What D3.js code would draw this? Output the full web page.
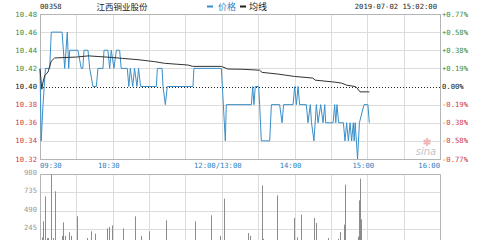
<!DOCTYPE html>
<html><head><meta charset="utf-8">
<script src="https://cdn.jsdelivr.net/npm/d3@7"></script>
<style>body{margin:0;background:#fff}svg{display:block}</style>
</head><body>
<svg id="c" width="480" height="240"></svg>
<script>
// ---- data ----
const stockCode = "00358";
const stockName = "江西铜业股份";
const legendNames = ["价格", "均线"];
const dateText = "2019-07-02 15:02:00";
const prevClose = 10.40;
const priceTicks = [10.48, 10.46, 10.44, 10.42, 10.40, 10.38, 10.36, 10.34, 10.32];
const pctTicks = ["+0.77%", "+0.58%", "+0.38%", "+0.19%", "0.00%", "-0.19%", "-0.38%", "-0.58%", "-0.77%"];
const timeLabels = ["09:30", "10:30", "12:00/13:00", "14:00", "15:00", "16:00"];
const timeLabelMinutes = [0, 60, 150, 210, 270, 330];
const volTicks = [980, 735, 490, 245];
// minutes since 09:30 (lunch break removed)
const priceMinutes = [0,1,2.5,3.5,4.5,8,9.3,18.2,20.4,22.5,23.7,24.5,31.3,34,35.3,36.3,39.6,41,43.7,46.5,47.8,52,52.8,56,57.5,58.8,61,63,65.7,67,72,73.3,74.5,76.5,78,80,81.3,83,96,96.8,100.7,101.5,103.4,105,126.2,127,149.6,152.9,153.7,174.4,175.5,176.5,177.6,180.4,181.2,182.6,189.5,190.9,197.7,199.7,201,208.8,210.1,211.5,212.9,214.2,219.7,221.1,223,224,226,228,229.4,231.6,233.5,234.9,235.7,241.8,243.1,244,245,246.4,250.3,251.6,253,254.4,255.8,257.1,258.5,259.2,260,262,263.5,267.3,270.5,271.7];
const priceValues = [10.42,10.34,10.38,10.40,10.42,10.42,10.46,10.46,10.42,10.46,10.42,10.44,10.44,10.42,10.42,10.44,10.44,10.42,10.40,10.40,10.42,10.42,10.44,10.44,10.42,10.44,10.42,10.44,10.44,10.42,10.42,10.40,10.42,10.40,10.42,10.40,10.42,10.40,10.40,10.42,10.42,10.40,10.38,10.40,10.40,10.42,10.42,10.34,10.38,10.38,10.40,10.38,10.40,10.40,10.38,10.34,10.34,10.38,10.38,10.36,10.38,10.38,10.40,10.38,10.40,10.38,10.38,10.36,10.38,10.36,10.34,10.38,10.36,10.38,10.36,10.38,10.36,10.36,10.38,10.36,10.38,10.36,10.36,10.34,10.36,10.34,10.36,10.34,10.36,10.34,10.36,10.32,10.36,10.38,10.38,10.36];
const avgMinutes = [0,1.5,2.5,3.9,6.6,9.3,12.1,30,40,60,68,80.9,94.6,102.8,122,126,149.6,155,167.5,181.2,183.2,196.4,210,225,227,243.4,248.9,253,259.9,261.2,264,271.7];
const avgValues = [10.4193,10.397,10.405,10.412,10.416,10.428,10.4315,10.4325,10.4338,10.432,10.431,10.4296,10.4274,10.4256,10.4237,10.4222,10.4222,10.4193,10.419,10.418,10.4156,10.4137,10.4111,10.4093,10.407,10.4048,10.4037,10.4015,10.40,10.3989,10.3941,10.3941];
const volMinutes = [1.5,2.5,4.4,5.5,6.6,8.8,10.5,12.1,18,19,20.5,23.6,25.8,30.5,38.8,41.8,45,55,56.6,59.4,68.5,78,83,90,103.7,127.6,141.4,148.2,151.8,171.6,173,183.2,184,195.5,209.6,212,215,226,227.4,238,245.5,247.2,250.5,251.4,262,262.8,264,264.8];
const volValues = [130,345,680,120,120,975,120,748,150,331,150,197,150,412,120,210,180,250,270,290,250,412,150,210,358,345,425,150,649,188,150,828,110,693,390,130,434,390,322,120,110,200,300,837,140,627,917,370];

// ---- drawing ----
const svg = d3.select("#c");
const L = 40, R = 440, T = 14, B = 159;
const VT = 174, VB = 247;
const x = d3.scaleLinear().domain([0, 330]).range([L, R]);
const y = d3.scaleLinear().domain([10.32, 10.48]).range([B, T]);
const yv = d3.scaleLinear().domain([0, 980]).range([VB, VT]);
const px = v => Math.round(v) + 0.5;
const mono = "'DejaVu Sans Mono', monospace";
const cjk = "'Noto Sans CJK SC', sans-serif";
const gridC = "#dcdcdc", borderC = "#b4b4b4";
const green = "#3a8a3a", red = "#d03c3c", blueT = "#2f7fc0";

svg.append("rect").attr("width", 480).attr("height", 240).attr("fill", "#fff");

// grid - price
const gridMin = d3.range(30, 330, 30);
const g = svg.append("g");
g.selectAll(".vg").data(gridMin).join("line")
  .attr("x1", d => px(x(d))).attr("x2", d => px(x(d)))
  .attr("y1", T).attr("y2", B).attr("stroke", gridC);
g.selectAll(".hg").data(priceTicks.filter(d => d !== prevClose)).join("line")
  .attr("x1", L).attr("x2", R)
  .attr("y1", d => px(y(d))).attr("y2", d => px(y(d))).attr("stroke", gridC);
// grid - volume
g.selectAll(".vvg").data(gridMin).join("line")
  .attr("x1", d => px(x(d))).attr("x2", d => px(x(d)))
  .attr("y1", VT).attr("y2", 240).attr("stroke", gridC);
g.selectAll(".vhg").data(volTicks.slice(1)).join("line")
  .attr("x1", L).attr("x2", R)
  .attr("y1", d => px(yv(d))).attr("y2", d => px(yv(d))).attr("stroke", gridC);

// borders
svg.append("rect").attr("x", L + 0.5).attr("y", T + 0.5).attr("width", R - L).attr("height", B - T)
  .attr("fill", "none").attr("stroke", borderC);
svg.append("path").attr("d", `M${L + 0.5},245V${VT + 0.5}H${R + 0.5}V245`)
  .attr("fill", "none").attr("stroke", borderC);

// prev close dotted
svg.append("line").attr("x1", L).attr("x2", R)
  .attr("y1", px(y(prevClose))).attr("y2", px(y(prevClose)))
  .attr("stroke", "#222").attr("stroke-dasharray", "1,2");

// volume bars
svg.append("g").selectAll("line").data(volMinutes.map((m, i) => [m, volValues[i]])).join("line")
  .attr("x1", d => px(x(d[0]))).attr("x2", d => px(x(d[0])))
  .attr("y1", yv(0)).attr("y2", d => yv(d[1]))
  .attr("stroke", "#8c8c8c").attr("stroke-width", 1);

// watermark (logo drawn as shapes, text below)
const wm = svg.append("g");
const petals = d3.range(6).map(i => i * 60);
wm.append("g").attr("transform", "translate(427,142)").selectAll("ellipse").data(petals).join("ellipse")
  .attr("cx", 0).attr("cy", -2).attr("rx", 1.2).attr("ry", 2.2)
  .attr("transform", d => `rotate(${d})`).attr("fill", "#f2b8b8");
wm.append("text").attr("x", 426).attr("y", 155).attr("text-anchor", "middle")
  .attr("font-family", "'DejaVu Sans', sans-serif").attr("font-style", "italic")
  .attr("font-size", 10).attr("fill", "#c4c4c4").text("sina");

// lines
const line = d3.line().x(d => x(d[0])).y(d => y(d[1]));
svg.append("path").datum(priceMinutes.map((m, i) => [m, priceValues[i]]))
  .attr("d", line).attr("fill", "none").attr("stroke", "#3a8fc8").attr("stroke-width", 1);
svg.append("path").datum(avgMinutes.map((m, i) => [m, avgValues[i]]))
  .attr("d", line).attr("fill", "none").attr("stroke", "#333").attr("stroke-width", 1);

// left price labels
svg.append("g").selectAll("text").data(priceTicks).join("text")
  .attr("x", 37).attr("y", d => y(d)).attr("dy", "0.35em").attr("text-anchor", "end")
  .attr("font-family", mono).attr("font-size", 7.2)
  .attr("fill", d => d > prevClose ? green : (d < prevClose ? red : "#111"))
  .text(d => d.toFixed(2));
// right pct labels
svg.append("g").selectAll("text").data(pctTicks).join("text")
  .attr("x", 442).attr("y", (d, i) => y(priceTicks[i])).attr("dy", "0.35em")
  .attr("font-family", mono).attr("font-size", 7.2)
  .attr("fill", d => d[0] === "+" ? green : (d[0] === "-" ? red : "#111"))
  .text(d => d);
// time labels
svg.append("g").selectAll("text").data(timeLabels).join("text")
  .attr("x", (d, i) => i === 0 ? L : (i === timeLabels.length - 1 ? R : x(timeLabelMinutes[i]) - 4))
  .attr("y", 168)
  .attr("text-anchor", (d, i) => i === 0 ? "start" : (i === timeLabels.length - 1 ? "end" : "middle"))
  .attr("font-family", mono).attr("font-size", 7.2).attr("fill", blueT)
  .text(d => d);
// volume labels
svg.append("g").selectAll("text").data(volTicks).join("text")
  .attr("x", 37).attr("y", d => yv(d) - 1.5).attr("dy", "0.35em").attr("text-anchor", "end")
  .attr("font-family", mono).attr("font-size", 7.2).attr("fill", "#999")
  .text(d => d);

// header
svg.append("text").attr("x", 40).attr("y", 9).attr("font-family", mono).attr("font-size", 7.2)
  .attr("fill", "#222").text(stockCode);
svg.append("text").attr("x", 122).attr("y", 10).attr("text-anchor", "middle")
  .attr("font-family", cjk).attr("font-size", 8.5).attr("fill", "#222").text(stockName);
svg.append("rect").attr("x", 207).attr("y", 5.5).attr("width", 6).attr("height", 2).attr("fill", "#3a8fc8");
svg.append("text").attr("x", 218).attr("y", 10).attr("font-family", cjk).attr("font-size", 9)
  .attr("fill", blueT).text(legendNames[0]);
svg.append("rect").attr("x", 240).attr("y", 5.5).attr("width", 6).attr("height", 2).attr("fill", "#222");
svg.append("text").attr("x", 249).attr("y", 10).attr("font-family", cjk).attr("font-size", 9)
  .attr("fill", "#222").text(legendNames[1]);
svg.append("text").attr("x", 437).attr("y", 9).attr("text-anchor", "end")
  .attr("font-family", mono).attr("font-size", 7.2).attr("fill", "#222").text(dateText);
</script>
</body></html>
